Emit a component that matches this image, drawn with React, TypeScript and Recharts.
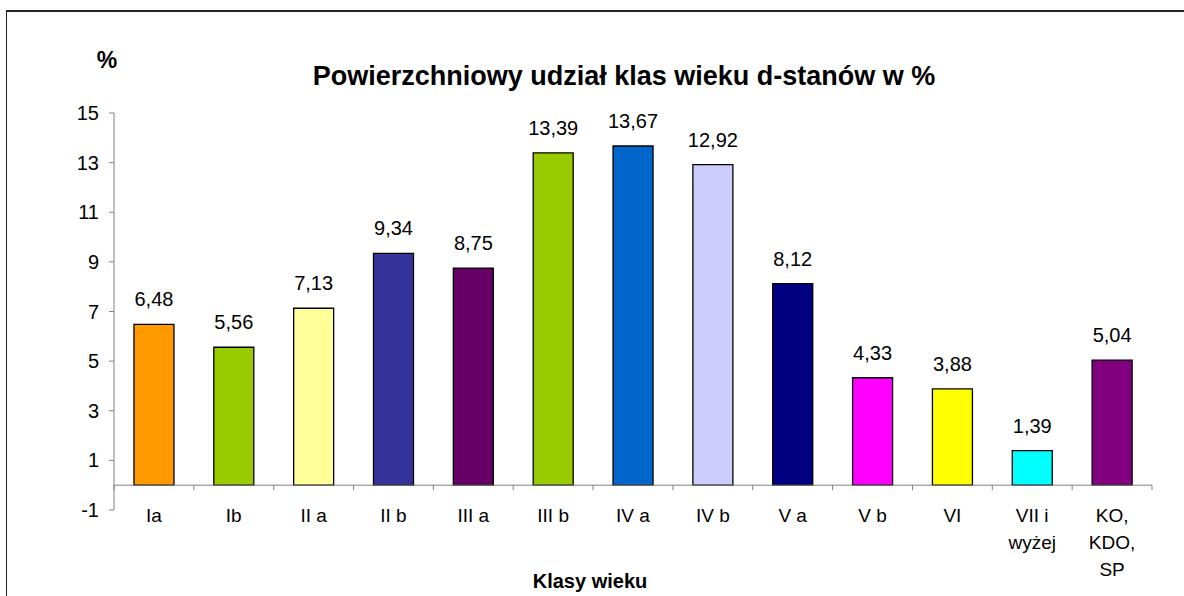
import React from 'react';
import { BarChart, Bar, XAxis, YAxis, Cell, LabelList, ReferenceLine } from 'recharts';

const categories: string[] = ['Ia', 'Ib', 'II a', 'II b', 'III a', 'III b', 'IV a', 'IV b', 'V a', 'V b', 'VI', 'VII i\nwyżej', 'KO,\nKDO,\nSP'];
const values: number[] = [6.48, 5.56, 7.13, 9.34, 8.75, 13.39, 13.67, 12.92, 8.12, 4.33, 3.88, 1.39, 5.04];
const colors: string[] = ['#FF9900', '#99CC00', '#FFFF99', '#333399', '#660066', '#99CC00', '#0066CC', '#CCCCFF', '#000080', '#FF00FF', '#FFFF00', '#00FFFF', '#800080'];
const yTicks: number[] = [-1, 1, 3, 5, 7, 9, 11, 13, 15];

const TITLE = 'Powierzchniowy udział klas wieku d-stanów w %';
const X_TITLE = 'Klasy wieku';
const Y_UNIT = '%';

const data = categories.map((c, i) => ({ cat: c, value: values[i] }));

const FONT = '"Liberation Sans", Arial, sans-serif';
const AXIS = '#808080';
const TICK_LEN = 0.2;

const CatTick = (props: any) => {
  const { x, y, payload } = props;
  const lines = String(payload.value).split('\n');
  return (
    <text x={x} y={y} textAnchor="middle" fill="#000" fontSize={19} fontFamily={FONT}>
      {lines.map((l, i) => (
        <tspan key={i} x={x} dy={i === 0 ? 11.5 : 27}>{l}</tspan>
      ))}
    </text>
  );
};

export default function App() {
  return (
    <div style={{ position: 'fixed', left: 0, top: 0, width: 1184, height: 596, background: '#fff', overflow: 'hidden' }}>
      <BarChart
        width={1184}
        height={596}
        data={data}
        margin={{ top: 113, right: 32, bottom: 26, left: 54 }}
        barCategoryGap="25%"
        style={{ fontFamily: FONT }}
      >
        <XAxis
          dataKey="cat"
          axisLine={false}
          tickLine={false}
          tickSize={0}
          tickMargin={0}
          interval={0}
          height={60}
          tick={<CatTick />}
        />
        <YAxis
          domain={[-1, 15]}
          ticks={yTicks}
          interval={0}
          width={60}
          axisLine={{ stroke: AXIS, strokeWidth: 1 }}
          tickLine={{ stroke: AXIS, strokeWidth: 1 }}
          tickSize={5}
          tickMargin={10}
          tick={{ fill: '#000', fontSize: 20, fontFamily: FONT }}
        />
        <ReferenceLine y={0} stroke={AXIS} strokeWidth={1} />
        {categories.map((c) => (
          <ReferenceLine
            key={'s' + c}
            position="start"
            segment={[{ x: c, y: 0 }, { x: c, y: -TICK_LEN }]}
            stroke={AXIS}
            strokeWidth={1}
          />
        ))}
        <ReferenceLine
          position="end"
          segment={[{ x: categories[categories.length - 1], y: 0 }, { x: categories[categories.length - 1], y: -TICK_LEN }]}
          stroke={AXIS}
          strokeWidth={1}
        />
        <Bar dataKey="value" stroke="#000" strokeWidth={1.3} isAnimationActive={false}>
          {data.map((d, i) => (
            <Cell key={i} fill={colors[i]} />
          ))}
          <LabelList
            dataKey="value"
            position="top"
            offset={18}
            fill="#000"
            fontSize={20}
            fontFamily={FONT}
            formatter={(v: any) => Number(v).toFixed(2).replace('.', ',')}
          />
        </Bar>
      </BarChart>
      <svg width={1184} height={596} style={{ position: 'absolute', left: 0, top: 0, pointerEvents: 'none' }}>
        <line x1={6} y1={11} x2={1184} y2={11} stroke="#222" strokeWidth={2} />
        <line x1={6.5} y1={10} x2={6.5} y2={596} stroke="#222" strokeWidth={1} />
        <text x={624} y={85} textAnchor="middle" fontSize={27} fontWeight="bold" fontFamily={FONT} fill="#000">{TITLE}</text>
        <text x={107} y={68} textAnchor="middle" fontSize={23} fontWeight="bold" fontFamily={FONT} fill="#000">{Y_UNIT}</text>
        <text x={590} y={588} textAnchor="middle" fontSize={20} fontWeight="bold" fontFamily={FONT} fill="#000">{X_TITLE}</text>
      </svg>
    </div>
  );
}
